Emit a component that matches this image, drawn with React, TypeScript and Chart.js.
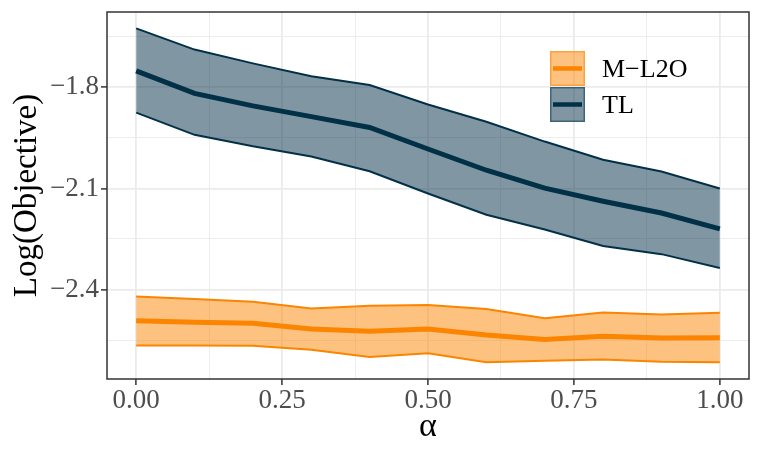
import { useEffect, useRef } from "react";
import { Chart, registerables } from "chart.js";

Chart.register(...registerables);

// ---- data ----
const alphaValues = [0, 0.1, 0.2, 0.3, 0.4, 0.5, 0.6, 0.7, 0.8, 0.9, 1.0];

const ml2oMean = [-2.493, -2.497, -2.500, -2.517, -2.524, -2.517, -2.535, -2.548, -2.539, -2.544, -2.543];
const ml2oUpper = [-2.421, -2.428, -2.436, -2.456, -2.448, -2.446, -2.458, -2.485, -2.468, -2.474, -2.469];
const ml2oLower = [-2.566, -2.566, -2.567, -2.579, -2.600, -2.589, -2.616, -2.611, -2.608, -2.614, -2.616];

const tlMean = [-1.751, -1.818, -1.855, -1.887, -1.919, -1.983, -2.046, -2.099, -2.138, -2.173, -2.220];
const tlUpper = [-1.625, -1.688, -1.729, -1.767, -1.793, -1.851, -1.902, -1.961, -2.015, -2.050, -2.100];
const tlLower = [-1.875, -1.941, -1.975, -2.005, -2.049, -2.115, -2.178, -2.222, -2.271, -2.295, -2.336];

const xTickValues = [0, 0.125, 0.25, 0.375, 0.5, 0.625, 0.75, 0.875, 1.0];
const xMajorLabels = ["0.00", "0.25", "0.50", "0.75", "1.00"];
const yTickValues = [-2.55, -2.4, -2.25, -2.1, -1.95, -1.8, -1.65];
const yMajorLabels = ["\u22122.4", "\u22122.1", "\u22121.8"];

const seriesNames = ["M\u2212L2O", "TL"];
const xTitle = "\u03b1";
const yTitle = "Log(Objective)";

// ---- styles ----
const ORANGE = "#FB8500";
const ORANGE_FILL = "rgba(251,133,0,0.5)";
const NAVY = "#023047";
const NAVY_FILL = "rgba(2,48,71,0.5)";
const FONT = "'Liberation Serif', 'Times New Roman', serif";

const pts = (ys: number[]) => alphaValues.map((x, i) => ({ x, y: ys[i] }));

const isMajorX = (v: number) => Math.abs(v * 4 - Math.round(v * 4)) < 1e-6;
const isMajorY = (v: number) => Math.abs(v / 0.3 - Math.round(v / 0.3)) < 1e-6;

const panelBorder = {
  id: "panelBorder",
  afterDraw(chart: any) {
    const { ctx, chartArea: a } = chart;
    ctx.save();
    ctx.strokeStyle = "#333333";
    ctx.lineWidth = 1.5;
    ctx.strokeRect(a.left, a.top, a.right - a.left, a.bottom - a.top);
    ctx.restore();
  },
};

const insetLegend = {
  id: "insetLegend",
  afterDraw(chart: any) {
    const { ctx } = chart;
    const items = [
      { label: seriesNames[0], line: ORANGE, fill: ORANGE_FILL },
      { label: seriesNames[1], line: NAVY, fill: NAVY_FILL },
    ];
    const x0 = 550;
    const y0 = 51;
    const size = 35;
    const gap = 1;
    ctx.save();
    items.forEach((it, i) => {
      const y = y0 + i * (size + gap);
      ctx.fillStyle = it.fill;
      ctx.fillRect(x0, y, size, size);
      ctx.strokeStyle = it.fill;
      ctx.lineWidth = 1.5;
      ctx.strokeRect(x0 + 0.75, y + 0.75, size - 1.5, size - 1.5);
      ctx.strokeStyle = it.line;
      ctx.lineWidth = 4.5;
      ctx.beginPath();
      ctx.moveTo(x0 + 3, y + size / 2);
      ctx.lineTo(x0 + size - 3, y + size / 2);
      ctx.stroke();
      ctx.fillStyle = "#000000";
      ctx.font = `26px ${FONT}`;
      ctx.textAlign = "left";
      ctx.textBaseline = "middle";
      ctx.fillText(it.label, 602, y + size / 2 + 2);
    });
    ctx.restore();
  },
};

export default function App() {
  const ref = useRef<HTMLCanvasElement | null>(null);

  useEffect(() => {
    document.body.style.margin = "0";
    const canvas = ref.current;
    if (!canvas) return;

    const band = (lower: number[], upper: number[], mean: number[], color: string, fill: string) => [
      {
        data: pts(lower),
        borderColor: color,
        borderWidth: 2,
        pointRadius: 0,
        fill: false,
        tension: 0,
      },
      {
        data: pts(upper),
        borderColor: color,
        borderWidth: 2,
        pointRadius: 0,
        backgroundColor: fill,
        fill: "-1",
        tension: 0,
      },
      {
        data: pts(mean),
        borderColor: color,
        borderWidth: 5,
        pointRadius: 0,
        fill: false,
        tension: 0,
      },
    ];

    const chart = new Chart(canvas, {
      type: "line",
      data: {
        datasets: [
          ...band(ml2oLower, ml2oUpper, ml2oMean, ORANGE, ORANGE_FILL),
          ...band(tlLower, tlUpper, tlMean, NAVY, NAVY_FILL),
        ] as any,
      },
      options: {
        animation: false,
        responsive: false,
        devicePixelRatio: 1,
        layout: { padding: { left: 0, right: 12, top: 12, bottom: 0 } },
        plugins: {
          legend: { display: false },
          tooltip: { enabled: false },
          filler: { propagate: false },
        },
        scales: {
          x: {
            type: "linear",
            min: -0.05,
            max: 1.05,
            afterBuildTicks: (axis: any) => {
              axis.ticks = xTickValues.map((v) => ({ value: v }));
            },
            afterFit: (axis: any) => {
              axis.height = 78;
              axis.paddingLeft = 0;
              axis.paddingRight = 0;
            },
            border: { display: false },
            grid: {
              color: "#EBEBEB",
              lineWidth: (c: any) => (c.tick && isMajorX(c.tick.value) ? 1.8 : 0.9),
              tickColor: (c: any) => (c.tick && isMajorX(c.tick.value) ? "#333333" : "rgba(0,0,0,0)"),
              tickWidth: 1.5,
              tickLength: 6,
              drawTicks: true,
            },
            ticks: {
              autoSkip: false,
              maxRotation: 0,
              padding: 2,
              color: "#4D4D4D",
              font: { family: FONT, size: 27, lineHeight: 1 },
              callback: (v: any) => {
                const val = Number(v);
                if (!isMajorX(val)) return "";
                return xMajorLabels[Math.round(val * 4)];
              },
            },
            title: {
              display: true,
              text: xTitle,
              color: "#000000",
              font: { family: FONT, size: 34, lineHeight: 1.2 },
              padding: { top: 0, bottom: 10 },
            },
          },
          y: {
            type: "linear",
            min: -2.6655,
            max: -1.5765,
            afterBuildTicks: (axis: any) => {
              axis.ticks = yTickValues.map((v) => ({ value: v }));
            },
            afterFit: (axis: any) => {
              axis.width = 107;
              axis.paddingTop = 0;
              axis.paddingBottom = 0;
            },
            border: { display: false },
            grid: {
              color: "#EBEBEB",
              lineWidth: (c: any) => (c.tick && isMajorY(c.tick.value) ? 1.8 : 0.9),
              tickColor: (c: any) => (c.tick && isMajorY(c.tick.value) ? "#333333" : "rgba(0,0,0,0)"),
              tickWidth: 1.5,
              tickLength: 6,
              drawTicks: true,
            },
            ticks: {
              autoSkip: false,
              padding: 2,
              color: "#4D4D4D",
              font: { family: FONT, size: 27, lineHeight: 1 },
              callback: (v: any) => {
                const val = Number(v);
                if (!isMajorY(val)) return "";
                const idx = Math.round((val + 2.4) / 0.3);
                return yMajorLabels[idx];
              },
            },
            title: {
              display: true,
              text: yTitle,
              color: "#000000",
              font: { family: FONT, size: 33, lineHeight: 1.2 },
              padding: { top: 8, bottom: 0 },
            },
          },
        },
      },
      plugins: [panelBorder, insetLegend],
    });

    return () => chart.destroy();
  }, []);

  return (
    <div style={{ position: "fixed", left: 0, top: 0, width: 761, height: 457, background: "#ffffff" }}>
      <canvas ref={ref} width={761} height={457} style={{ width: 761, height: 457, display: "block" }} />
    </div>
  );
}
